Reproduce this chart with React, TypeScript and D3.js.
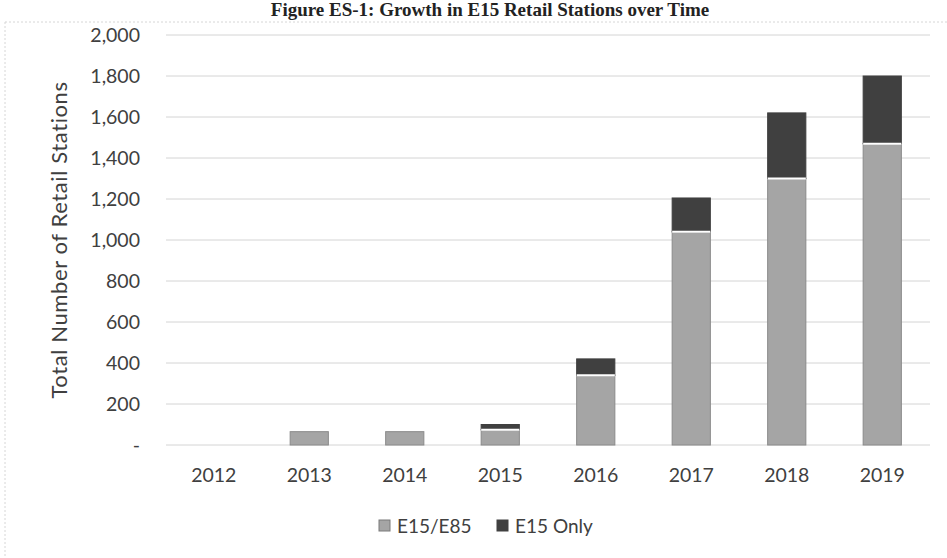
import * as React from 'react';
import * as d3 from 'd3';

// values
const years = ['2012', '2013', '2014', '2015', '2016', '2017', '2018', '2019'];
const e15e85 = [0, 65, 65, 75, 340, 1040, 1300, 1470];
const e15only = [0, 0, 0, 25, 80, 165, 320, 330];
const yTicks = [0, 200, 400, 600, 800, 1000, 1200, 1400, 1600, 1800, 2000];
const seriesNames = ['E15/E85', 'E15 Only'];
const seriesColors = ['#a5a5a5', '#404040'];

const W = 947;
const H = 558;
const margin = { top: 35, right: 17, bottom: 113, left: 166 };
const font = 'Lato, "Open Sans", sans-serif';

export default function App() {
  const ref = React.useRef<SVGSVGElement>(null);

  React.useEffect(() => {
    const svg = d3.select(ref.current);
    svg.selectAll('*').remove();

    const x = d3
      .scaleBand<string>()
      .domain(years)
      .range([margin.left, W - margin.right])
      .paddingInner(0.6)
      .paddingOuter(0.3);
    const y = d3
      .scaleLinear()
      .domain([0, 2000])
      .range([H - margin.bottom, margin.top]);

    // faint outer frame
    svg
      .append('rect')
      .attr('x', 5)
      .attr('y', 22)
      .attr('width', W + 10)
      .attr('height', H)
      .attr('fill', 'none')
      .attr('stroke', '#d6d6d6')
      .attr('stroke-dasharray', '2,2');

    // title (cut at the top in the scan)
    svg
      .append('text')
      .attr('x', 490)
      .attr('y', 16)
      .attr('text-anchor', 'middle')
      .style('font-family', '"Liberation Serif", "DejaVu Serif", serif')
      .style('font-weight', 'bold')
      .style('font-size', '19px')
      .attr('fill', '#222')
      .text('Figure ES-1: Growth in E15 Retail Stations over Time');

    // gridlines and y labels
    svg
      .append('g')
      .selectAll('line')
      .data(yTicks)
      .enter()
      .append('line')
      .attr('x1', margin.left)
      .attr('x2', W - margin.right)
      .attr('y1', (d) => y(d))
      .attr('y2', (d) => y(d))
      .attr('stroke', '#d4d4d4')
      .attr('stroke-width', 1);

    svg
      .append('g')
      .selectAll('text')
      .data(yTicks)
      .enter()
      .append('text')
      .attr('x', 140)
      .attr('y', (d) => y(d))
      .attr('dy', '0.36em')
      .attr('text-anchor', 'end')
      .style('font-family', font)
      .style('font-size', '19.5px')
      .attr('fill', '#404040')
      .text((d) => (d === 0 ? '-' : d3.format(',')(d)));

    // y title
    svg
      .append('text')
      .attr('transform', `translate(67,${(margin.top + H - margin.bottom) / 2}) rotate(-90)`)
      .attr('text-anchor', 'middle')
      .style('font-family', font)
      .style('font-size', '22px')
      .style('letter-spacing', '0.6px')
      .attr('fill', '#404040')
      .text('Total Number of Retail Stations');

    // stacked bars
    const rows = years.map((yr, i) => ({ year: yr, a: e15e85[i], b: e15only[i] }));
    const stack = d3.stack<any>().keys(['a', 'b'])(rows);

    stack.forEach((layer, li) => {
      svg
        .append('g')
        .selectAll('rect')
        .data(layer.filter((d) => d[1] - d[0] > 0))
        .enter()
        .append('rect')
        .attr('x', (d) => x(d.data.year) as number)
        .attr('width', x.bandwidth())
        .attr('y', (d) => y(d[1]))
        .attr('height', (d) => y(d[0]) - y(d[1]))
        .attr('fill', seriesColors[li])
        .attr('stroke', li === 0 ? '#8a8a8a' : '#404040')
        .attr('stroke-width', 1);
      if (li === 1) {
        // white separation between segments
        svg
          .append('g')
          .selectAll('line')
          .data(layer.filter((d) => d[1] - d[0] > 0))
          .enter()
          .append('line')
          .attr('x1', (d) => x(d.data.year) as number)
          .attr('x2', (d) => (x(d.data.year) as number) + x.bandwidth())
          .attr('y1', (d) => y(d[0]))
          .attr('y2', (d) => y(d[0]))
          .attr('stroke', '#fff')
          .attr('stroke-width', 2);
      }
    });

    // x labels
    svg
      .append('g')
      .selectAll('text')
      .data(years)
      .enter()
      .append('text')
      .attr('x', (d) => (x(d) as number) + x.bandwidth() / 2)
      .attr('y', 482)
      .attr('text-anchor', 'middle')
      .style('font-family', font)
      .style('font-size', '19.5px')
      .attr('fill', '#404040')
      .text((d) => d);

    // legend
    const legendX = [379, 497];
    const lg = svg.append('g');
    seriesNames.forEach((name, i) => {
      lg.append('rect')
        .attr('x', legendX[i])
        .attr('y', 520)
        .attr('width', 11)
        .attr('height', 11)
        .attr('fill', seriesColors[i])
        .attr('stroke', i === 0 ? '#7a7a7a' : '#404040');
      lg.append('text')
        .attr('x', legendX[i] + 18)
        .attr('y', 533)
        .style('font-family', font)
        .style('font-size', '19px')
        .attr('fill', '#404040')
        .text(name);
    });
  }, []);

  return (
    <svg
      ref={ref}
      width={W}
      height={H}
      style={{ position: 'absolute', left: 0, top: 0, background: '#fff' }}
    />
  );
}
